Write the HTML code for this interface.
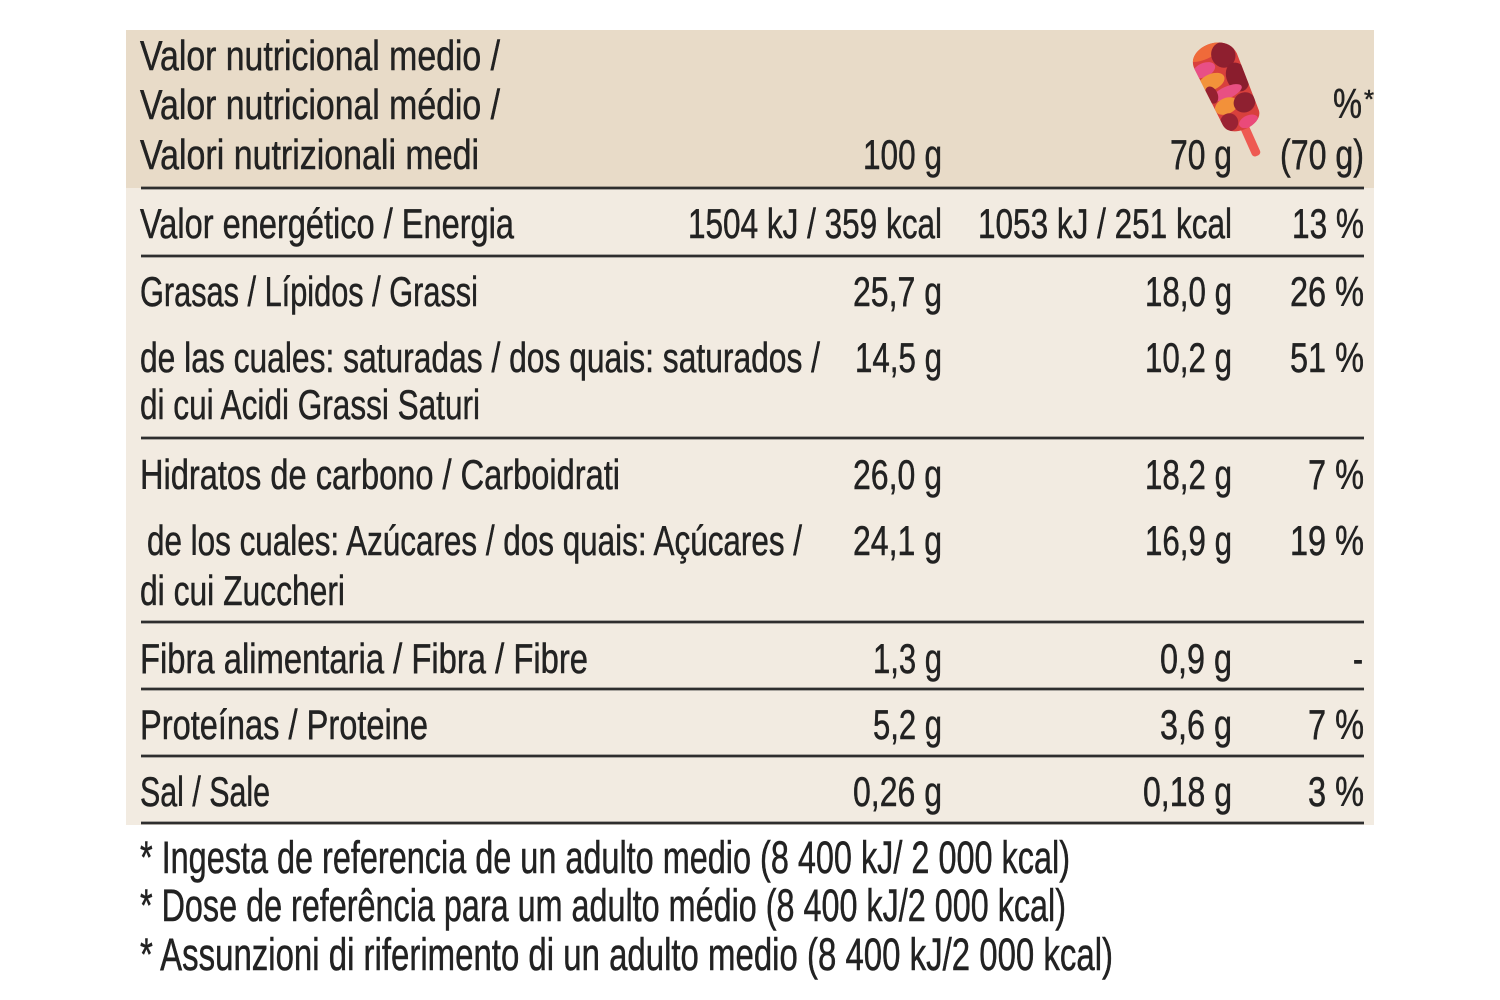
<!DOCTYPE html>
<html>
<head>
<meta charset="utf-8">
<style>
  html,body{margin:0;padding:0;background:#ffffff;}
  svg{display:block;}
  text{font-family:"Liberation Sans", sans-serif; fill:#222; font-size:42px; stroke:#222; stroke-width:0.5px;}
  .fn{font-size:45px;}
</style>
</head>
<body>
<svg width="1500" height="1000" viewBox="0 0 1500 1000" xmlns="http://www.w3.org/2000/svg">
  <defs>
    <clipPath id="pop">
      <path d="M -22 -32 C -24 -56, 22 -56, 23 -30 L 20 30 C 20 47, -18 47, -19 30 Z"/>
    </clipPath>
  </defs>
  <!-- backgrounds -->
  <rect x="126" y="30" width="1248" height="158" fill="#e8dbc8"/>
  <rect x="126" y="188" width="1248" height="637" fill="#f2ebe1"/>

  <!-- popsicle -->
  <g transform="translate(1228,90) rotate(-24)">
    <rect x="-4.5" y="36" width="9" height="36" rx="3.5" fill="#ee5a52"/>
    <g clip-path="url(#pop)">
      <rect x="-30" y="-60" width="60" height="110" fill="#d8403c"/>
      <ellipse cx="-6" cy="-46" rx="20" ry="9" fill="#ef6a3a"/>
      <ellipse cx="10" cy="-34" rx="12" ry="13" fill="#8e1f2f"/>
      <ellipse cx="-14" cy="-28" rx="12" ry="7" fill="#e84f86"/>
      <ellipse cx="-12" cy="-14" rx="14" ry="8" fill="#f2933a"/>
      <ellipse cx="14" cy="-8" rx="11" ry="15" fill="#8a1d2d"/>
      <ellipse cx="-2" cy="2" rx="16" ry="6" fill="#e85082"/>
      <ellipse cx="-8" cy="14" rx="12" ry="8" fill="#f2913a"/>
      <ellipse cx="10" cy="18" rx="11" ry="10" fill="#8e2030"/>
      <ellipse cx="-12" cy="30" rx="9" ry="9" fill="#9a2233"/>
      <ellipse cx="6" cy="37" rx="10" ry="6" fill="#ea4a7a"/>
      <ellipse cx="-17" cy="-2" rx="6" ry="9" fill="#962131"/>
    </g>
  </g>

  <!-- rule lines -->
  <g stroke="#2e2e2e" stroke-width="2.8">
    <line x1="141" y1="188" x2="1364" y2="188"/>
    <line x1="141" y1="256" x2="1364" y2="256"/>
    <line x1="141" y1="438" x2="1364" y2="438"/>
    <line x1="141" y1="622" x2="1364" y2="622"/>
    <line x1="141" y1="689" x2="1364" y2="689"/>
    <line x1="141" y1="756" x2="1364" y2="756"/>
    <line x1="141" y1="823" x2="1364" y2="823"/>
  </g>

  <!-- header -->
  <text x="140" y="70" textLength="360" lengthAdjust="spacingAndGlyphs">Valor nutricional medio /</text>
  <text x="140" y="119" textLength="360" lengthAdjust="spacingAndGlyphs">Valor nutricional médio /</text>
  <text x="140" y="169" textLength="339" lengthAdjust="spacingAndGlyphs">Valori nutrizionali medi</text>
  <text x="942" y="169" text-anchor="end" textLength="79" lengthAdjust="spacingAndGlyphs">100 g</text>
  <text x="1232" y="169" text-anchor="end" textLength="62" lengthAdjust="spacingAndGlyphs">70 g</text>
  <text x="1364" y="169" text-anchor="end" textLength="84" lengthAdjust="spacingAndGlyphs">(70 g)</text>
  <text x="1362" y="118" text-anchor="end" textLength="29" lengthAdjust="spacingAndGlyphs">%</text>
  <text x="1364" y="108" style="font-size:26px" textLength="10" lengthAdjust="spacingAndGlyphs">*</text>

  <!-- rows -->
  <text x="140" y="238" textLength="374" lengthAdjust="spacingAndGlyphs">Valor energético / Energia</text>
  <text x="942" y="238" text-anchor="end" textLength="254" lengthAdjust="spacingAndGlyphs">1504 kJ / 359 kcal</text>
  <text x="1232" y="238" text-anchor="end" textLength="254" lengthAdjust="spacingAndGlyphs">1053 kJ / 251 kcal</text>
  <text x="1364" y="238" text-anchor="end" textLength="72" lengthAdjust="spacingAndGlyphs">13 %</text>

  <text x="140" y="306" textLength="338" lengthAdjust="spacingAndGlyphs">Grasas / Lípidos / Grassi</text>
  <text x="942" y="306" text-anchor="end" textLength="89" lengthAdjust="spacingAndGlyphs">25,7 g</text>
  <text x="1232" y="306" text-anchor="end" textLength="87" lengthAdjust="spacingAndGlyphs">18,0 g</text>
  <text x="1364" y="306" text-anchor="end" textLength="74" lengthAdjust="spacingAndGlyphs">26 %</text>

  <text x="140" y="372" textLength="680" lengthAdjust="spacingAndGlyphs">de las cuales: saturadas / dos quais: saturados /</text>
  <text x="140" y="419" textLength="340" lengthAdjust="spacingAndGlyphs">di cui Acidi Grassi Saturi</text>
  <text x="942" y="372" text-anchor="end" textLength="87" lengthAdjust="spacingAndGlyphs">14,5 g</text>
  <text x="1232" y="372" text-anchor="end" textLength="87" lengthAdjust="spacingAndGlyphs">10,2 g</text>
  <text x="1364" y="372" text-anchor="end" textLength="74" lengthAdjust="spacingAndGlyphs">51 %</text>

  <text x="140" y="489" textLength="480" lengthAdjust="spacingAndGlyphs">Hidratos de carbono / Carboidrati</text>
  <text x="942" y="489" text-anchor="end" textLength="89" lengthAdjust="spacingAndGlyphs">26,0 g</text>
  <text x="1232" y="489" text-anchor="end" textLength="87" lengthAdjust="spacingAndGlyphs">18,2 g</text>
  <text x="1364" y="489" text-anchor="end" textLength="56" lengthAdjust="spacingAndGlyphs">7 %</text>

  <text x="147" y="555" textLength="655" lengthAdjust="spacingAndGlyphs">de los cuales: Azúcares / dos quais: Açúcares /</text>
  <text x="140" y="605" textLength="205" lengthAdjust="spacingAndGlyphs">di cui Zuccheri</text>
  <text x="942" y="555" text-anchor="end" textLength="89" lengthAdjust="spacingAndGlyphs">24,1 g</text>
  <text x="1232" y="555" text-anchor="end" textLength="87" lengthAdjust="spacingAndGlyphs">16,9 g</text>
  <text x="1364" y="555" text-anchor="end" textLength="74" lengthAdjust="spacingAndGlyphs">19 %</text>

  <text x="140" y="673" textLength="448" lengthAdjust="spacingAndGlyphs">Fibra alimentaria / Fibra / Fibre</text>
  <text x="942" y="673" text-anchor="end" textLength="69" lengthAdjust="spacingAndGlyphs">1,3 g</text>
  <text x="1232" y="673" text-anchor="end" textLength="72" lengthAdjust="spacingAndGlyphs">0,9 g</text>
  <text x="1363" y="673" text-anchor="end" textLength="10" lengthAdjust="spacingAndGlyphs">-</text>

  <text x="140" y="739" textLength="288" lengthAdjust="spacingAndGlyphs">Proteínas / Proteine</text>
  <text x="942" y="739" text-anchor="end" textLength="69" lengthAdjust="spacingAndGlyphs">5,2 g</text>
  <text x="1232" y="739" text-anchor="end" textLength="72" lengthAdjust="spacingAndGlyphs">3,6 g</text>
  <text x="1364" y="739" text-anchor="end" textLength="56" lengthAdjust="spacingAndGlyphs">7 %</text>

  <text x="140" y="806" textLength="130" lengthAdjust="spacingAndGlyphs">Sal / Sale</text>
  <text x="942" y="806" text-anchor="end" textLength="89" lengthAdjust="spacingAndGlyphs">0,26 g</text>
  <text x="1232" y="806" text-anchor="end" textLength="89" lengthAdjust="spacingAndGlyphs">0,18 g</text>
  <text x="1364" y="806" text-anchor="end" textLength="56" lengthAdjust="spacingAndGlyphs">3 %</text>

  <!-- footnotes -->
  <text class="fn" x="140" y="873" textLength="930" lengthAdjust="spacingAndGlyphs">* Ingesta de referencia de un adulto medio (8 400 kJ/ 2 000 kcal)</text>
  <text class="fn" x="140" y="921" textLength="926" lengthAdjust="spacingAndGlyphs">* Dose de referência para um adulto médio (8 400 kJ/2 000 kcal)</text>
  <text class="fn" x="140" y="970" textLength="973" lengthAdjust="spacingAndGlyphs">* Assunzioni di riferimento di un adulto medio (8 400 kJ/2 000 kcal)</text>
</svg>
</body>
</html>
